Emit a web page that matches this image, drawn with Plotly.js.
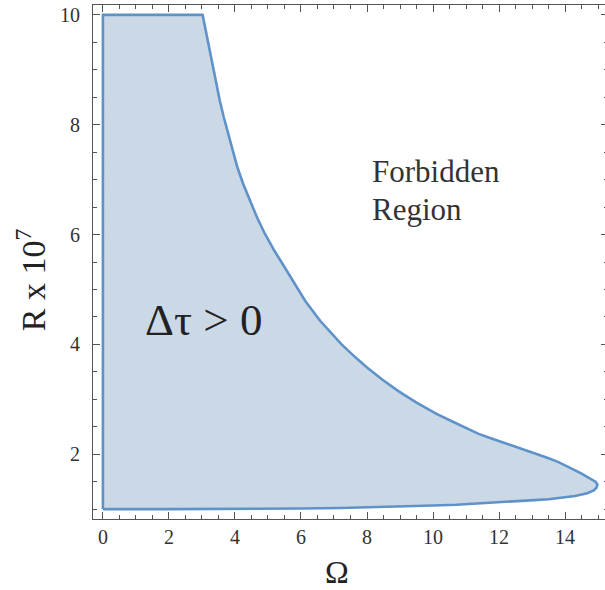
<!DOCTYPE html>
<html>
<head>
<meta charset="utf-8">
<script src="https://cdn.plot.ly/plotly-3.0.1.min.js"></script>
<style>
html, body { margin: 0; padding: 0; overflow: hidden; background: #fff; }
#chart { width: 608px; height: 590px; }
</style>
</head>
<body>
<div id="chart"></div>
<script>
// Boundary of the allowed region (Δτ > 0)
var leftOmega  = [0, 0];
var leftR      = [1.0, 10];
var upperOmega = [3.02, 3.12, 3.22, 3.34, 3.44, 3.54, 3.66, 3.80, 3.93, 4.07, 4.25, 4.45, 4.67, 4.91, 5.20, 5.51, 5.82, 6.13, 6.58, 6.90, 7.23, 7.60, 8.00, 8.46, 8.95, 9.50, 10.12, 10.57, 11.0, 11.38, 11.75, 12.14, 12.50, 12.95, 13.46, 13.80, 14.06, 14.26, 14.50, 14.77, 14.92, 14.98];
var upperR     = [10.0, 9.70, 9.38, 9.05, 8.75, 8.44, 8.14, 7.84, 7.53, 7.23, 6.92, 6.62, 6.31, 6.01, 5.70, 5.40, 5.09, 4.79, 4.43, 4.21, 4.00, 3.79, 3.58, 3.36, 3.15, 2.94, 2.73, 2.60, 2.47, 2.37, 2.29, 2.21, 2.13, 2.04, 1.935, 1.855, 1.785, 1.72, 1.645, 1.555, 1.50, 1.45];
var lowerOmega = [14.95, 14.87, 14.67, 14.3, 13.96, 13.5, 12.95, 12.2, 11.43, 10.7, 10.0, 9.2, 8.4, 7.2, 6.0, 5.0, 4.0, 2.0, 0];
var lowerR     = [1.39, 1.34, 1.29, 1.24, 1.21, 1.18, 1.16, 1.13, 1.10, 1.08, 1.065, 1.05, 1.035, 1.02, 1.012, 1.007, 1.004, 1.0, 1.0];
var xTicks = [0, 2, 4, 6, 8, 10, 12, 14];
var yTicks = [2, 4, 6, 8, 10];

var xs = leftOmega.concat(upperOmega, lowerOmega);
var ys = leftR.concat(upperR, lowerR);

var serif = 'Liberation Serif, Times New Roman, serif';

var trace = {
  x: xs, y: ys,
  type: 'scatter', mode: 'lines',
  fill: 'toself',
  fillcolor: 'rgb(203,217,231)',
  line: {color: 'rgb(94,146,201)', width: 2.6},
  hoverinfo: 'skip'
};

var axisCommon = {
  showgrid: false, zeroline: false,
  showline: true, linecolor: '#555', linewidth: 1, mirror: 'ticks',
  ticks: 'inside', ticklen: 7, tickwidth: 1, tickcolor: '#555',
  tickfont: {family: serif, size: 20, color: '#333'},
  minor: {dtick: 0.5, ticks: 'inside', ticklen: 4, tickwidth: 1, tickcolor: '#555', showgrid: false}
};

var layout = {
  width: 608, height: 590,
  margin: {l: 93, r: 0, t: 5, b: 71},
  paper_bgcolor: '#fff', plot_bgcolor: '#fff',
  showlegend: false,
  xaxis: Object.assign({}, axisCommon, {
    range: [-0.3, 15.3], tickvals: xTicks, ticktext: xTicks.map(String),
    ticklabelstandoff: 0
  }),
  yaxis: Object.assign({}, axisCommon, {
    range: [0.82, 10.18], tickvals: yTicks, ticktext: yTicks.map(String),
    ticklabelstandoff: 8
  }),
  annotations: [
    {text: 'Ω', xref: 'paper', yref: 'paper', x: 0.474, y: -0.104,
     xanchor: 'center', yanchor: 'middle', showarrow: false,
     font: {family: serif, size: 32, color: '#222'}},
    {text: 'R x 10<sup>7</sup>', xref: 'paper', yref: 'paper', x: -0.12, y: 0.465,
     xanchor: 'center', yanchor: 'middle', textangle: -90, showarrow: false,
     font: {family: serif, size: 34, color: '#222'}},
    {text: 'Δτ > 0', xref: 'x', yref: 'y', x: 3.05, y: 4.45,
     xanchor: 'center', yanchor: 'middle', showarrow: false,
     font: {family: serif, size: 45, color: '#222'}},
    {text: 'Forbidden', xref: 'x', yref: 'y', x: 8.08, y: 7.14,
     xanchor: 'left', yanchor: 'middle', showarrow: false,
     font: {family: serif, size: 31, color: '#333'}},
    {text: 'Region', xref: 'x', yref: 'y', x: 8.08, y: 6.45,
     xanchor: 'left', yanchor: 'middle', showarrow: false,
     font: {family: serif, size: 31, color: '#333'}}
  ]
};

Plotly.newPlot('chart', [trace], layout, {displayModeBar: false, staticPlot: true});
</script>
</body>
</html>
